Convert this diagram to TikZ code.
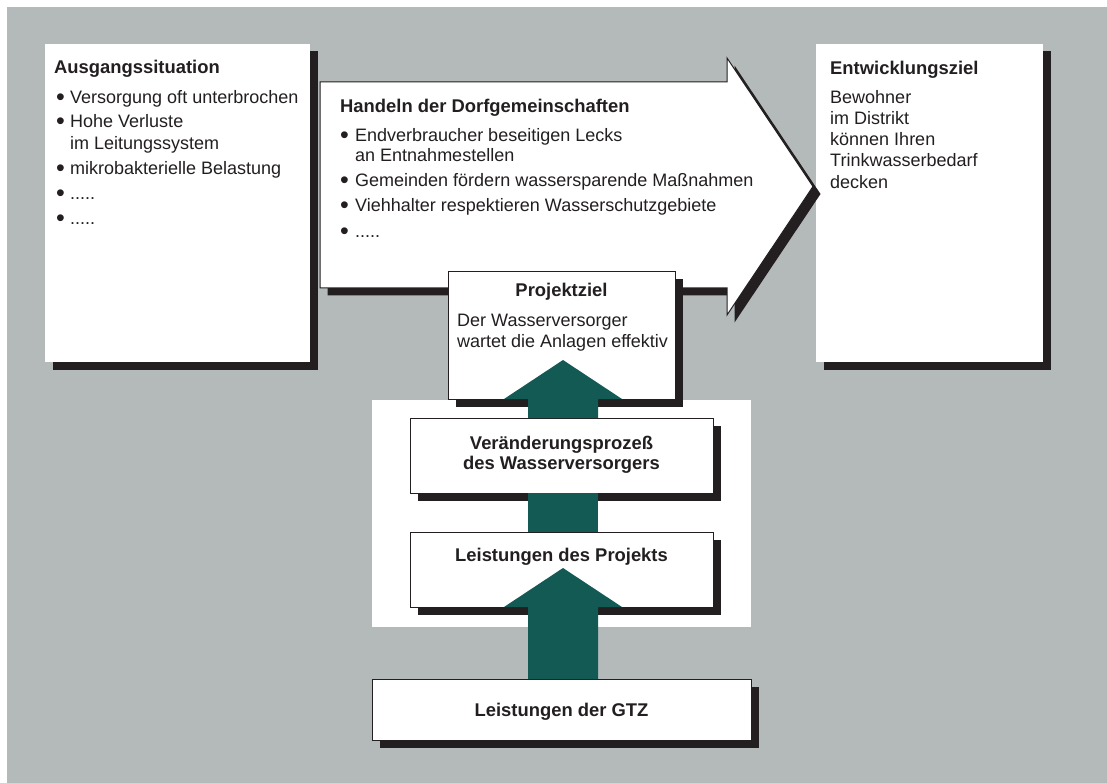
\documentclass[tikz,border=0pt]{standalone}
\usepackage{fontspec}
\setmainfont{Liberation Sans}
\usetikzlibrary{shadows,calc}
\definecolor{bg}{HTML}{B4BAB9}
\definecolor{sh}{HTML}{231F20}
\definecolor{gr}{HTML}{135A55}
\newcommand{\bul}[1]{\makebox[#1][l]{\raisebox{-2pt}{\fontsize{25}{25}\selectfont •}}}
\begin{document}
\begin{tikzpicture}[x=1pt,y=-1pt,
  shad/.style={drop shadow={shadow xshift=7.5pt,shadow yshift=-7.5pt,fill=sh,opacity=1}},
  wbox/.style={anchor=north west,inner sep=0,outer sep=0,fill=white,shad},
  lbox/.style={wbox,draw=sh,line width=1pt},
  txt/.style={inner sep=0,anchor=base west,text=sh,font=\fontsize{18}{21}\selectfont},
  hd/.style={txt,font=\fontsize{18.4}{21}\selectfont\bfseries},
  ctxt/.style={txt,anchor=base},
  chd/.style={hd,anchor=base},
  garrow/.style={fill=gr}]
\useasboundingbox (0,0) rectangle (1107,783);
\fill[bg] (7,7) rectangle (1107,783);
% side boxes
\node[wbox,minimum width=265,minimum height=318] (aus) at (45,44) {};
\node[wbox,minimum width=227,minimum height=318] (ent) at (816,44) {};
% big arrow
\filldraw[fill=white,draw=sh,line width=1pt,line join=miter,shad]
  (320,82) -- (727,82) -- (727,58) -- (813,186.5) -- (727,315) -- (727,288) -- (320,288) -- cycle;
% white panel
\node[anchor=north west,inner sep=0,outer sep=0,fill=white,minimum width=379,minimum height=227] (panel) at (372,400) {};
% column boxes
\node[lbox,minimum width=227,minimum height=127] (pz) at (448,272) {};
\node[lbox,minimum width=303,minimum height=75] (ver) at (410,418) {};
\node[lbox,minimum width=303,minimum height=75] (pro) at (410,532) {};
\node[lbox,minimum width=379,minimum height=61] (gtz) at (372,679) {};
% green arrows
\fill[garrow] ($(ver.north)+(-33.5,0)$) -- ($(pz.south)+(-33.5,0)$) -- ($(pz.south)+(-57.5,0)$)
  -- ($(pz.south)+(1.5,-39)$) -- ($(pz.south)+(60.5,0)$) -- ($(pz.south)+(36.5,0)$)
  -- ($(ver.north)+(36.5,0)$) -- cycle;
\fill[garrow] ($(ver.south)+(-33.5,0)$) rectangle ($(pro.north)+(36.5,0)$);
\fill[garrow] ($(gtz.north)+(-33.5,0)$) -- ($(pro.south)+(-33.5,0)$) -- ($(pro.south)+(-57.5,0)$)
  -- ($(pro.south)+(1.5,-39)$) -- ($(pro.south)+(60.5,0)$) -- ($(pro.south)+(36.5,0)$)
  -- ($(gtz.north)+(36.5,0)$) -- cycle;
% left texts
\node[hd] (t1) at (54,74) {Ausgangssituation};
\node[txt] (t2) at (56,103.3) {\bul{14pt}Versorgung oft unterbrochen};
\node[txt] (t3) at (56,127.3) {\bul{14pt}Hohe Verluste};
\node[txt] (t4) at (70,150) {im Leitungssystem};
\node[txt] (t5) at (56,175) {\bul{14pt}mikrobakterielle Belastung};
\node[txt] (t6) at (56,199.3) {\bul{14pt}.....};
\node[txt] (t7) at (56,225) {\bul{14pt}.....};
% arrow texts
\node[hd] (h1) at (340,112.7) {Handeln der Dorfgemeinschaften};
\node[txt] (h2) at (340,141.7) {\bul{15pt}Endverbraucher beseitigen Lecks};
\node[txt] (h3) at (355,161.7) {an Entnahmestellen};
\node[txt] (h4) at (340,186.7) {\bul{15pt}Gemeinden fördern wassersparende Maßnahmen};
\node[txt] (h5) at (340,211.7) {\bul{15pt}Viehhalter respektieren Wasserschutzgebiete};
\node[txt] (h6) at (340,237.7) {\bul{15pt}.....};
% right texts
\node[hd] (e1) at (830,75) {Entwicklungsziel};
\node[txt] (e2) at (830,103.3) {Bewohner};
\node[txt] (e3) at (830,124.3) {im Distrikt};
\node[txt] (e4) at (830,146) {können Ihren};
\node[txt] (e5) at (830,166.7) {Trinkwasserbedarf};
\node[txt] (e6) at (830,188.3) {decken};
% column texts
\node[chd] (p1) at (561.5,296.7) {Projektziel};
\node[txt] (p2) at (457,326) {Der Wasserversorger};
\node[txt] (p3) at (457,347.3) {wartet die Anlagen effektiv};
\node[chd] (v1) at (561.5,449.3) {Veränderungsprozeß};
\node[chd] (v2) at (561.5,469.3) {des Wasserversorgers};
\node[chd] (l1) at (561.5,561.7) {Leistungen des Projekts};
\node[chd] (g1) at (561.5,716.7) {Leistungen der GTZ};
\end{tikzpicture}
\end{document}
